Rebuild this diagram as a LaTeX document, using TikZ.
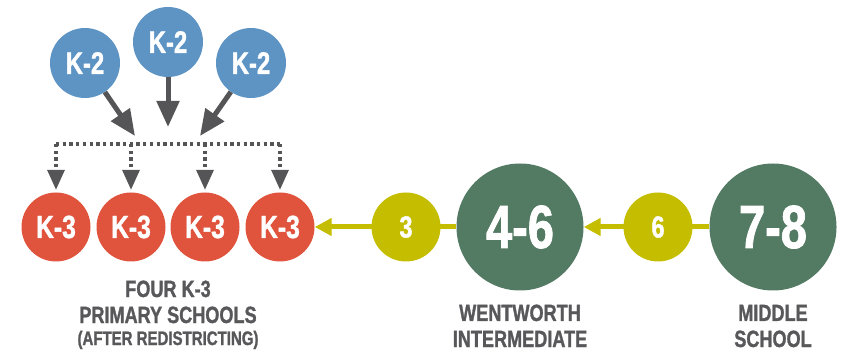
\documentclass[tikz,border=0pt]{standalone}
\usepackage{fontspec}
\setmainfont{Liberation Sans}[FakeStretch=0.77,BoldFeatures={FakeBold=1.2}]
\usetikzlibrary{arrows.meta,backgrounds}
\definecolor{kblue}{HTML}{5E94C4}
\definecolor{kred}{HTML}{E0533D}
\definecolor{kyel}{HTML}{C4BD00}
\definecolor{kgreen}{HTML}{537A63}
\definecolor{kgrey}{HTML}{555557}
\definecolor{ktext}{HTML}{58585A}
\begin{document}
\begin{tikzpicture}[x=1pt,y=1pt,
  circ/.style={circle,inner sep=0pt,text=white,font=\bfseries},
  bluec/.style={circ,fill=kblue,minimum size=70pt,font=\bfseries\fontsize{31}{31}\selectfont},
  redc/.style={circ,fill=kred,minimum size=69pt,font=\bfseries\fontsize{32}{32}\selectfont},
  yelc/.style={circ,fill=kyel,minimum size=69pt,font=\bfseries\fontsize{30.5}{30.5}\selectfont},
  greenc/.style={circ,fill=kgreen,minimum size=127pt,font=\bfseries\fontsize{61}{61}\selectfont},
  greyarrow/.style={draw=kgrey,line width=5pt,-{Triangle[length=26pt,width=22pt]}},
  dotline/.style={draw=kgrey,line width=3.3pt,dash pattern=on 3.3pt off 3.4pt},
  dotarrow/.style={dotline,-{Triangle[length=20pt,width=17pt]}},
  yelarrow/.style={draw=kyel,line width=5pt,-{Triangle[length=17pt,width=17pt]}},
  lab/.style={text=ktext,anchor=base,inner sep=0pt,font=\bfseries\fontsize{23.5}{23.5}\selectfont},
  labs/.style={lab,font=\bfseries\fontsize{19.5}{19.5}\selectfont}
]
\useasboundingbox (0,0) rectangle (858,353);
% blue circles
\node[bluec] (b1) at (85,290) {K-2};
\node[bluec] (b2) at (168,311) {K-2};
\node[bluec] (b3) at (251,290) {K-2};
% red circles
\node[redc] (r1) at (56,126) {K-3};
\node[redc] (r2) at (131,126) {K-3};
\node[redc] (r3) at (205,126) {K-3};
\node[redc] (r4) at (280,126) {K-3};
% yellow and green
\node[yelc] (y1) at (406,126) {3};
\node[greenc] (g1) at (520,126) {4-6};
\node[yelc] (y2) at (658,126) {6};
\node[greenc] (g2) at (773,126) {7-8};
% arrow points
\coordinate (t1) at (135,217);
\coordinate (t2) at (168,226);
\coordinate (t3) at (200,217);
\coordinate (d1) at (56,209);
\coordinate (d2) at (131,209);
\coordinate (d3) at (205,209);
\coordinate (d4) at (280,209);
\draw[greyarrow] (b1) -- (t1);
\draw[greyarrow] (b2) -- (t2);
\draw[greyarrow] (b3) -- (t3);
\draw[dotline] (d1) -- (d4);
\draw[dotarrow,shorten >=2.5pt] (d1) -- (r1);
\draw[dotarrow,shorten >=2.5pt] (d2) -- (r2);
\draw[dotarrow,shorten >=2.5pt] (d3) -- (r3);
\draw[dotarrow,shorten >=2.5pt] (d4) -- (r4);
\begin{pgfonlayer}{background}
\draw[yelarrow] (g1.west) -- (r4.east);
\draw[yelarrow] (g2.west) -- (g1.east);
\end{pgfonlayer}
% labels
\node[lab] (l1) at (168,56) {FOUR K-3};
\node[lab] (l2) at (168,30) {PRIMARY SCHOOLS};
\node[labs] (l3) at (168,8) {(AFTER REDISTRICTING)};
\node[lab] (l4) at (520,32) {WENTWORTH};
\node[lab] (l5) at (520,6) {INTERMEDIATE};
\node[lab] (l6) at (773,32) {MIDDLE};
\node[lab] (l7) at (773,6) {SCHOOL};
\end{tikzpicture}
\end{document}
